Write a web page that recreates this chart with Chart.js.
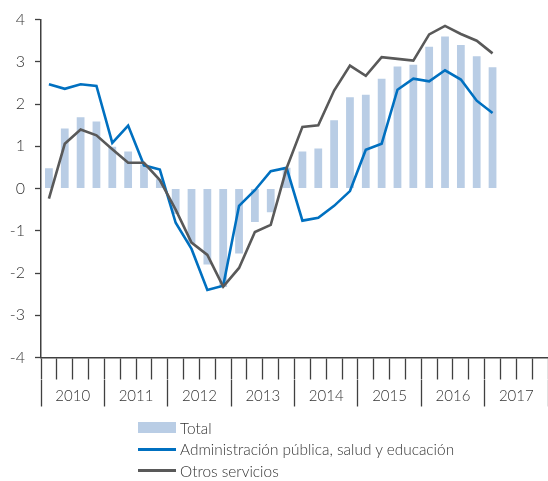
<!DOCTYPE html>
<html>
<head>
<meta charset="utf-8">
<script src="https://cdn.jsdelivr.net/npm/chart.js@4/dist/chart.umd.min.js"></script>
<style>
    body { margin: 0; background: #fff; }
    .grafico { position: relative; width: 548px; height: 481px; }
    .legenda { position: absolute; left: 138px; top: 417px; font-family: Lato, sans-serif; font-weight: 300; font-size: 15.4px; color: #333; }
    .legenda div { display: flex; align-items: center; height: 21.5px; }
    .legenda span.marca { display: inline-block; width: 38px; margin-right: 4px; }
</style>
</head>
<body>
<div class="grafico">
    <canvas id="graficoServicios" width="548" height="481"></canvas>
    <div class="legenda" id="legenda"></div>
</div>
<script>
// trimestres 2010-2017
const trimestres = [];
const anios = ['2010', '2011', '2012', '2013', '2014', '2015', '2016', '2017'];
anios.forEach(a => ['I', 'II', 'III', 'IV'].forEach(t => trimestres.push(a + '-' + t)));

const nombres = ['Total', 'Administración pública, salud y educación', 'Otros servicios'];

const total = [0.48, 1.42, 1.69, 1.59, 0.99, 0.88, 0.57, 0.22, -0.6, -1.3, -1.8, -2.33, -1.54, -0.79, -0.56,
    0.49, 0.88, 0.95, 1.62, 2.16, 2.22, 2.6, 2.89, 2.93, 3.36, 3.6, 3.4, 3.13, 2.87];
const adminPublica = [2.47, 2.36, 2.47, 2.43, 1.08, 1.49, 0.55, 0.45, -0.81, -1.43, -2.4, -2.3, -0.41, -0.04, 0.41,
    0.49, -0.76, -0.69, -0.41, -0.06, 0.92, 1.06, 2.34, 2.6, 2.54, 2.8, 2.58, 2.08, 1.79];
const otrosServicios = [-0.24, 1.06, 1.4, 1.26, 0.93, 0.61, 0.61, 0.2, -0.5, -1.28, -1.57, -2.32, -1.88, -1.03, -0.86,
    0.48, 1.46, 1.5, 2.32, 2.91, 2.67, 3.11, 3.07, 3.03, 3.65, 3.85, 3.66, 3.5, 3.2];

const colores = ['#b9cde5', '#0070c0', '#595959'];
const ejeColor = '#404040';
const fuente = { family: 'Lato, sans-serif', size: 15, weight: '300' };

const ctx = document.getElementById('graficoServicios').getContext('2d');

const grafico = new Chart(ctx, {
    type: 'bar',
    data: {
        labels: trimestres,
        datasets: [
            {
                label: nombres[0],
                data: total,
                backgroundColor: colores[0],
                barPercentage: 0.49,
                categoryPercentage: 1,
                order: 3
            },
            {
                type: 'line',
                label: nombres[1],
                data: adminPublica,
                borderColor: colores[1],
                borderWidth: 2.6,
                pointRadius: 0,
                tension: 0,
                order: 2
            },
            {
                type: 'line',
                label: nombres[2],
                data: otrosServicios,
                borderColor: colores[2],
                borderWidth: 2.6,
                pointRadius: 0,
                tension: 0,
                order: 1
            }
        ]
    },
    options: {
        responsive: false,
        animation: false,
        layout: { padding: { top: 18, left: 0, right: 0, bottom: 71.5 } },
        plugins: { legend: { display: false }, tooltip: { enabled: false } },
        scales: {
            x: {
                weight: 1,
                offset: true,
                grid: { offset: true, drawOnChartArea: false, tickLength: 22, tickColor: ejeColor, tickWidth: 1.3 },
                border: { color: ejeColor, width: 1.5 },
                ticks: { display: false }
            },
            x2: {
                type: 'category',
                position: 'bottom',
                weight: 2,
                labels: anios,
                offset: true,
                grid: { offset: true, drawOnChartArea: false, tickLength: 27, tickColor: ejeColor, tickWidth: 1.3 },
                border: { display: false },
                ticks: { font: fuente, color: '#333', padding: -19, maxRotation: 0, autoSkip: false },
                afterFit: s => { s.height = 30; }
            },
            y: {
                min: -4,
                max: 4,
                ticks: { stepSize: 1, font: { family: 'Lato, sans-serif', size: 16, weight: '300' }, color: '#333', padding: 10 },
                grid: { drawOnChartArea: false, tickLength: 6, tickColor: ejeColor, tickWidth: 1.3 },
                border: { color: ejeColor, width: 1.5 },
                afterFit: s => { s.width = 41; }
            }
        }
    }
});

// leyenda vertical debajo del grafico
const legenda = document.getElementById('legenda');
grafico.data.datasets.forEach((ds, i) => {
    const fila = document.createElement('div');
    const marca = document.createElement('span');
    marca.className = 'marca';
    if (i === 0) {
        marca.style.height = '11px';
        marca.style.background = ds.backgroundColor;
    } else {
        marca.style.height = '2.6px';
        marca.style.background = ds.borderColor;
    }
    fila.appendChild(marca);
    fila.appendChild(document.createTextNode(ds.label));
    legenda.appendChild(fila);
});
</script>
</body>
</html>
